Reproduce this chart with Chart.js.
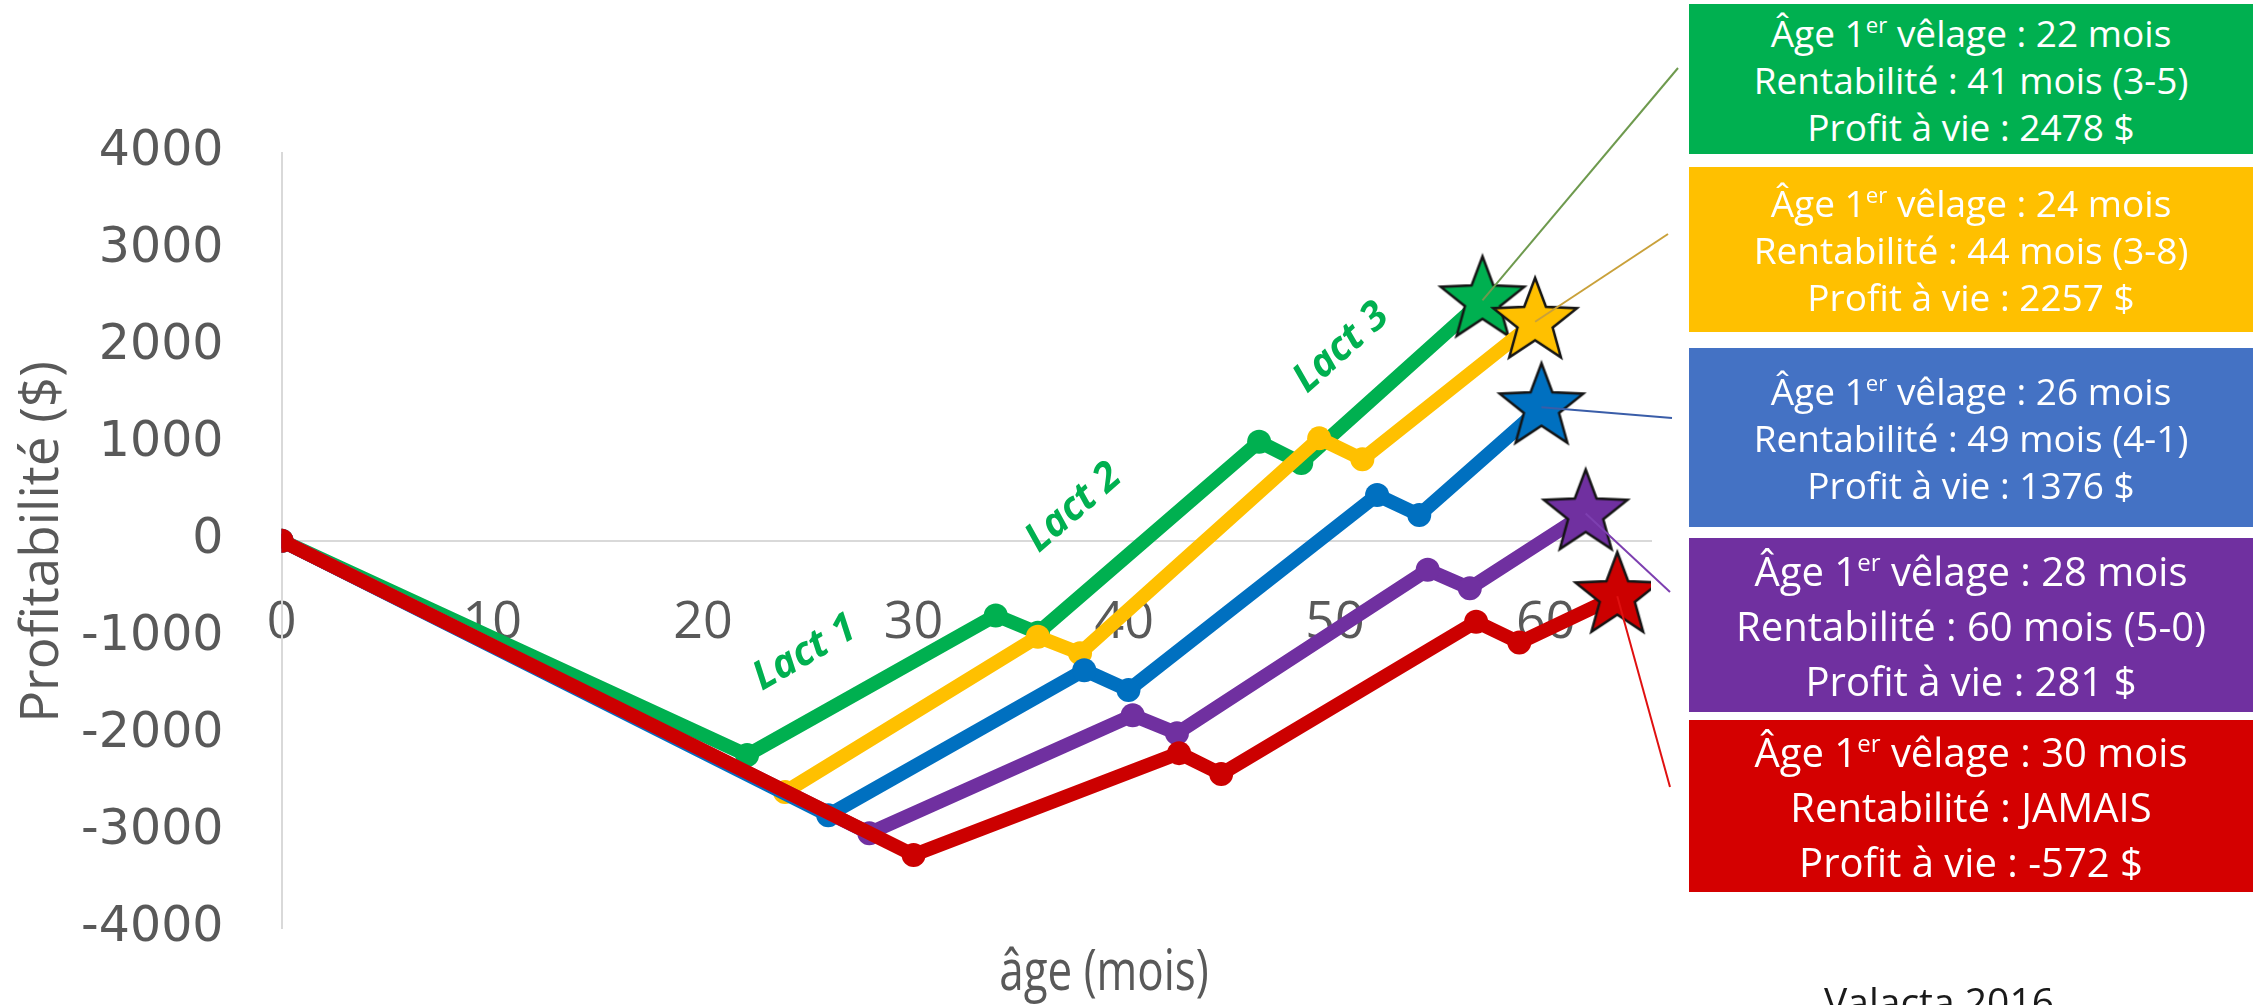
<!DOCTYPE html>
<html lang="fr">
<head>
<meta charset="utf-8">
<title>Profitabilité selon l'âge au premier vêlage</title>
<script src="https://cdn.jsdelivr.net/npm/chart.js@4/dist/chart.umd.min.js"></script>
<style>
  html, body { margin: 0; padding: 0; background: #ffffff; }
  #wrap { position: relative; width: 2255px; height: 1005px; overflow: hidden; background: #ffffff; }
  #chart { position: absolute; left: 0; top: 0; }
  .box {
    position: absolute; left: 1689px; width: 564px;
    display: flex; flex-direction: column; justify-content: center; align-items: center;
    color: #ffffff; font-family: "Open Sans", sans-serif; text-align: center; white-space: nowrap;
  }
  .box sup { font-size: 0.6em; line-height: 0; vertical-align: 0.62em; }
  #source { position: absolute; left: 1824px; top: 981px; font-family: "Open Sans", sans-serif;
            font-size: 39px; line-height: 39px; color: #1a1a1a; white-space: nowrap; }
</style>
</head>
<body>
<div id="wrap">
  <canvas id="chart" width="2255" height="1005"></canvas>
  <div id="boxes"></div>
  <div id="source">Valacta 2016</div>
</div>
<script>
// Âge au 1er vêlage (mois) de chaque courbe
const calvingAge = [22, 24, 26, 28, 30];

// Âge (mois) et profitabilité cumulée ($) pour chaque courbe
const monthsG = [0, 22.1, 33.9, 35.9, 46.4, 48.4, 57.0];
const profitG = [0, -2210, -770, -950, 1020, 800];
const monthsY = [0, 23.9, 35.9, 37.9, 49.25, 51.3, 59.5];
const profitY = [0, -2590, -990, -1160, 1055, 840];
const monthsB = [0, 25.95, 38.1, 40.2, 52.0, 54.0, 59.8];
const profitB = [0, -2830, -1335, -1540, 470, 265];
const monthsP = [0, 27.9, 40.4, 42.5, 54.4, 56.4, 61.9];
const profitP = [0, -3015, -1800, -1985, -300, -490];
const monthsR = [0, 30.0, 42.6, 44.6, 56.7, 58.75, 63.4];
const profitR = [0, -3240, -2190, -2405, -835, -1050];

// Profit à vie ($) : dernier point (étoile) de chaque courbe
const lifetimeProfit = [2478, 2257, 1376, 281, -572];
// Âge de rentabilité
const breakEven = ['41 mois (3-5)', '44 mois (3-8)', '49 mois (4-1)', '60 mois (5-0)', 'JAMAIS'];

// Graduations
const xTicks = [0, 10, 20, 30, 40, 50, 60];
const yTicks = [-4000, -3000, -2000, -1000, 0, 1000, 2000, 3000, 4000];

// Étiquettes de lactation : texte, âge, profit
const lactLabels = ['Lact 1', 'Lact 2', 'Lact 3'];
const lactAge = [24.85, 37.6, 50.3];
const lactProfit = [-1158, 337, 1987];

// ---- styles ----
const lineColors = ['#00B050', '#FFC000', '#0070C0', '#7030A0', '#CC0000'];
const boxColors = ['#00B050', '#FFC000', '#4472C4', '#7030A0', '#D40000'];
const leaderColors = ['#6E9A4E', '#C9A13A', '#3A5DA8', '#7D3FB0', '#E01010'];
const leaderEnd = [[1678, 68], [1668, 234], [1672, 418], [1670, 592], [1670, 787]];
const boxGeom = [[4, 150, 37, 47], [167, 165, 37, 47], [348, 179, 37, 47], [538, 174, 40, 55], [720, 172, 40, 55]];
const lactAngle = [-30, -41, -42];

const allMonths = [monthsG, monthsY, monthsB, monthsP, monthsR];
const allProfit = [profitG, profitY, profitB, profitP, profitR];

function makeStar(fill, R) {
  const c = document.createElement('canvas');
  const s = Math.ceil(2 * R + 8);
  c.width = s; c.height = s;
  const g = c.getContext('2d');
  const cx = s / 2, cy = s / 2;
  g.beginPath();
  for (let k = 0; k < 10; k++) {
    const r = k % 2 === 0 ? R : R * 0.42;
    const a = -Math.PI / 2 + k * Math.PI / 5;
    g.lineTo(cx + r * Math.cos(a), cy + r * Math.sin(a));
  }
  g.closePath();
  g.fillStyle = fill;
  g.fill();
  g.lineWidth = 2.5;
  g.strokeStyle = '#141414';
  g.lineJoin = 'miter';
  g.stroke();
  return c;
}

const datasets = allMonths.map((months, i) => {
  const profit = allProfit[i].concat([lifetimeProfit[i]]);
  const last = months.length - 1;
  const star = makeStar(lineColors[i], 44);
  return {
    label: calvingAge[i] + ' mois',
    data: months.map((m, k) => ({ x: m, y: profit[k] })),
    showLine: true,
    borderColor: lineColors[i],
    backgroundColor: lineColors[i],
    borderWidth: 14,
    borderJoinStyle: 'round',
    borderCapStyle: 'round',
    tension: 0,
    pointRadius: 12,
    pointBorderWidth: 0,
    pointBackgroundColor: lineColors[i],
    pointStyle: ctx => (ctx.dataIndex === last ? star : 'circle'),
    order: 5 - i
  };
});

// Boîtes d'annotation
const boxesEl = document.getElementById('boxes');
calvingAge.forEach((age, i) => {
  const [top, h, fs, lh] = boxGeom[i];
  const d = document.createElement('div');
  d.className = 'box';
  d.style.top = top + 'px';
  d.style.height = h + 'px';
  d.style.background = boxColors[i];
  d.style.fontSize = fs + 'px';
  d.style.lineHeight = lh + 'px';
  d.innerHTML =
    '<div>Âge 1<sup>er</sup> vêlage : ' + age + ' mois</div>' +
    '<div>Rentabilité : ' + breakEven[i] + '</div>' +
    '<div>Profit à vie : ' + lifetimeProfit[i] + ' $</div>';
  boxesEl.appendChild(d);
});

const overlay = {
  id: 'overlay',
  afterDatasetsDraw(chart) {
    const { ctx, scales: { x, y } } = chart;
    ctx.save();
    // traits de rappel étoile -> boîte
    allMonths.forEach((months, i) => {
      const px = x.getPixelForValue(months[months.length - 1]);
      const py = y.getPixelForValue(lifetimeProfit[i]);
      ctx.beginPath();
      ctx.moveTo(px, py);
      ctx.lineTo(leaderEnd[i][0], leaderEnd[i][1]);
      ctx.lineWidth = 2;
      ctx.strokeStyle = leaderColors[i];
      ctx.stroke();
    });
    // étiquettes de lactation
    ctx.fillStyle = '#00B050';
    ctx.font = 'italic bold 40px "Open Sans", sans-serif';
    ctx.textAlign = 'center';
    ctx.textBaseline = 'middle';
    lactLabels.forEach((t, i) => {
      ctx.save();
      ctx.translate(x.getPixelForValue(lactAge[i]), y.getPixelForValue(lactProfit[i]));
      ctx.rotate(lactAngle[i] * Math.PI / 180);
      ctx.fillText(t, 0, 0);
      ctx.restore();
    });
    ctx.restore();
  },
  afterDraw(chart) {
    const { ctx } = chart;
    ctx.save();
    ctx.fillStyle = '#595959';
    ctx.textAlign = 'center';
    ctx.textBaseline = 'alphabetic';
    // titre de l'axe horizontal
    ctx.save();
    ctx.font = '56px "Open Sans", sans-serif';
    ctx.translate(1104, 990);
    ctx.scale(0.785, 1);
    ctx.fillText('âge (mois)', 0, 0);
    ctx.restore();
    // titre de l'axe vertical
    ctx.font = '53px "Open Sans", sans-serif';
    ctx.translate(58, 542);
    ctx.rotate(-Math.PI / 2);
    ctx.fillText('Profitabilité ($)', 0, 0);
    ctx.restore();
  }
};

new Chart(document.getElementById('chart'), {
  type: 'scatter',
  data: { datasets },
  plugins: [overlay],
  options: {
    responsive: false,
    animation: false,
    devicePixelRatio: 1,
    layout: { padding: { left: 0, right: 604, top: 152.7, bottom: 76.3 } },
    plugins: { legend: { display: false }, tooltip: { enabled: false } },
    scales: {
      x: {
        type: 'linear',
        min: 0, max: 65,
        position: { y: 0 },
        afterBuildTicks: s => { s.ticks = xTicks.map(v => ({ value: v })); },
        ticks: {
          callback: v => String(v),
          font: { family: '"Open Sans", sans-serif', size: 52 },
          color: '#595959',
          padding: 51,
          maxRotation: 0,
          autoSkip: false
        },
        grid: { display: false, drawTicks: false },
        border: { display: true, color: '#D9D9D9', width: 2 }
      },
      y: {
        type: 'linear',
        min: -4000, max: 4000,
        afterBuildTicks: s => { s.ticks = yTicks.map(v => ({ value: v })); },
        afterFit: s => { s.width = 281.5; s.paddingTop = 30; s.paddingBottom = 30; },
        ticks: {
          callback: v => String(v),
          font: { family: '"DejaVu Sans", sans-serif', size: 49 },
          color: '#595959',
          padding: 58
        },
        grid: { display: false, drawTicks: false },
        border: { display: true, color: '#D9D9D9', width: 2 }
      }
    }
  }
});
</script>
</body>
</html>
